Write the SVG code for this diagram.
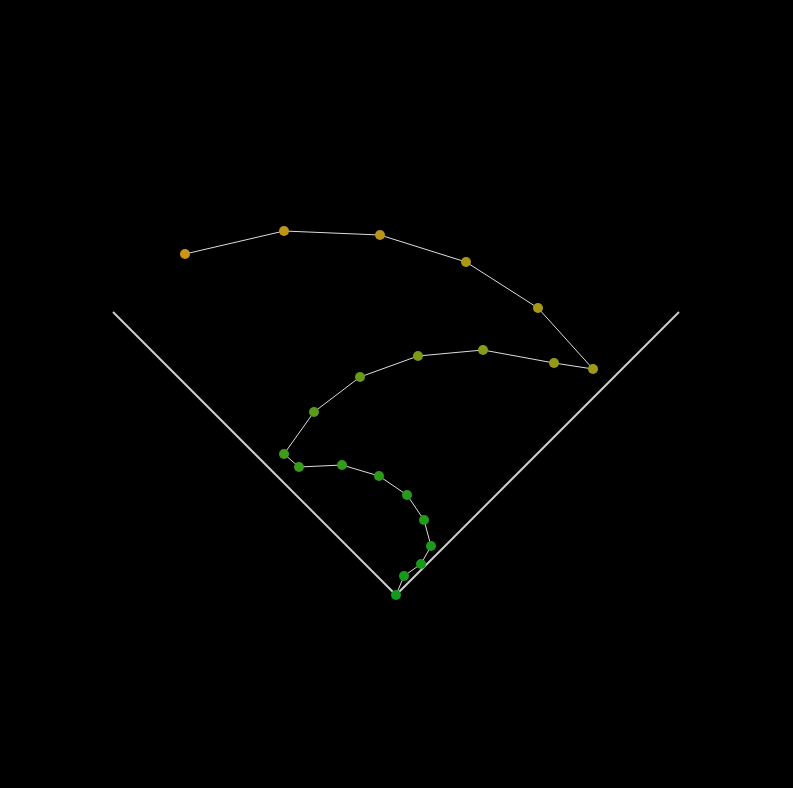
<svg xmlns="http://www.w3.org/2000/svg" width="793" height="788" viewBox="0 0 793 788">
<style>
.v{stroke:#cccccc;stroke-width:2;fill:none}
.c{stroke:#dddddd;stroke-width:1;fill:none}
circle{stroke:none}
</style>
<rect x="0" y="0" width="793" height="788" fill="#000000"/>
<g id="axes">
<polyline class="v" points="113,312 396,595 679,312"/>
</g>
<g id="connectors">
<polyline class="c" points="396,595 404,576 421,564 431,546 424,520 407,495 379,476 342,465 299,467 284,454 314,412 360,377 418,356 483,350 554,363 593,369 538,308 466,262 380,235 284,231 185,254"/>
</g>
<g id="n0"><circle cx="396" cy="595" r="5" fill="#109a20"/></g>
<g id="n1"><circle cx="404" cy="576" r="5" fill="#159a1e"/></g>
<g id="n2"><circle cx="421" cy="564" r="5" fill="#1a9a1c"/></g>
<g id="n3"><circle cx="431" cy="546" r="5" fill="#1e9a1a"/></g>
<g id="n4"><circle cx="424" cy="520" r="5" fill="#229a1a"/></g>
<g id="n5"><circle cx="407" cy="495" r="5" fill="#289a1a"/></g>
<g id="n6"><circle cx="379" cy="476" r="5" fill="#2e9a1a"/></g>
<g id="n7"><circle cx="342" cy="465" r="5" fill="#349a1a"/></g>
<g id="n8"><circle cx="299" cy="467" r="5" fill="#3a9a1a"/></g>
<g id="n9"><circle cx="284" cy="454" r="5" fill="#409a1a"/></g>
<g id="n10"><circle cx="314" cy="412" r="5" fill="#5a9a18"/></g>
<g id="n11"><circle cx="360" cy="377" r="5" fill="#6a9a18"/></g>
<g id="n12"><circle cx="418" cy="356" r="5" fill="#7a9a18"/></g>
<g id="n13"><circle cx="483" cy="350" r="5" fill="#889a18"/></g>
<g id="n14"><circle cx="554" cy="363" r="5" fill="#949a18"/></g>
<g id="n15"><circle cx="593" cy="369" r="5" fill="#9c9a18"/></g>
<g id="n16"><circle cx="538" cy="308" r="5" fill="#a49818"/></g>
<g id="n17"><circle cx="466" cy="262" r="5" fill="#ac9618"/></g>
<g id="n18"><circle cx="380" cy="235" r="5" fill="#b89418"/></g>
<g id="n19"><circle cx="284" cy="231" r="5" fill="#c09418"/></g>
<g id="n20"><circle cx="185" cy="254" r="5" fill="#cc9418"/></g>
</svg>
